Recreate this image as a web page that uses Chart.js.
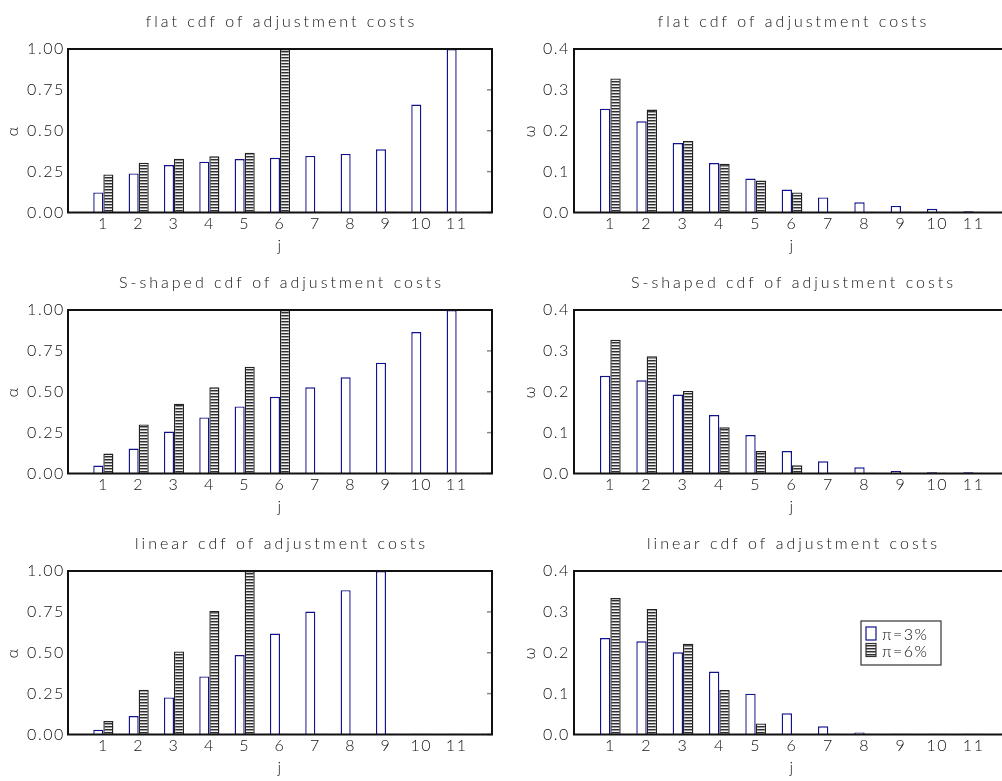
<!DOCTYPE html>
<html>
<head>
<meta charset="utf-8">
<script src="https://cdn.jsdelivr.net/npm/chart.js@4/dist/chart.umd.min.js"></script>
<style>
  html, body { margin: 0; padding: 0; background: #fff; overflow: hidden; }
  #page { position: relative; width: 1002px; height: 781px; overflow: hidden; background: #fff; }
  #page canvas { position: absolute; }
</style>
</head>
<body>
<div id="page"></div>
<script>
// ---- data ----------------------------------------------------------------
const jValues = [1, 2, 3, 4, 5, 6, 7, 8, 9, 10, 11, 12];
const jTicks = [1, 2, 3, 4, 5, 6, 7, 8, 9, 10, 11];
const alphaTicks = [0, 0.25, 0.5, 0.75, 1.0];
const omegaTicks = [0, 0.1, 0.2, 0.3, 0.4];

const panelTitles = [
  'flat cdf of adjustment costs',
  'S-shaped cdf of adjustment costs',
  'linear cdf of adjustment costs'
];
const seriesLabels = ['\u03c0=3%', '\u03c0=6%'];

// adjustment hazard alpha(j)
const alphaFlat3    = [0.123, 0.239, 0.290, 0.311, 0.327, 0.335, 0.346, 0.358, 0.387, 0.660, 1.000, 0.005];
const alphaFlat6    = [0.233, 0.305, 0.329, 0.344, 0.366, 1.000, 0.005, 0.005, 0.005, 0.005, 0.005, 0.005];
const alphaSshape3  = [0.049, 0.153, 0.257, 0.343, 0.410, 0.469, 0.527, 0.588, 0.678, 0.865, 1.000, 0.005];
const alphaSshape6  = [0.122, 0.300, 0.427, 0.527, 0.653, 1.000, 0.005, 0.005, 0.005, 0.005, 0.005, 0.005];
const alphaLinear3  = [0.029, 0.113, 0.227, 0.355, 0.486, 0.617, 0.752, 0.883, 1.000, 0.005, 0.005, 0.005];
const alphaLinear6  = [0.082, 0.273, 0.508, 0.756, 1.000, 0.005, 0.005, 0.005, 0.005, 0.005, 0.005, 0.005];

// vintage distribution omega(j)
const omegaFlat3    = [0.254, 0.223, 0.170, 0.121, 0.083, 0.056, 0.037, 0.025, 0.016, 0.009, 0.003, 0.002];
const omegaFlat6    = [0.328, 0.252, 0.175, 0.119, 0.078, 0.049, 0.002, 0.002, 0.002, 0.002, 0.002, 0.002];
const omegaSshape3  = [0.239, 0.228, 0.193, 0.143, 0.094, 0.055, 0.030, 0.015, 0.006, 0.003, 0.003, 0.002];
const omegaSshape6  = [0.327, 0.287, 0.202, 0.113, 0.055, 0.020, 0.002, 0.002, 0.002, 0.002, 0.002, 0.002];
const omegaLinear3  = [0.236, 0.228, 0.201, 0.154, 0.100, 0.052, 0.020, 0.005, 0.002, 0.002, 0.002, 0.002];
const omegaLinear6  = [0.334, 0.307, 0.222, 0.109, 0.027, 0.002, 0.002, 0.002, 0.002, 0.002, 0.002, 0.002];

// ---- styling -------------------------------------------------------------
const FONT = 'Lato';
const INK = '#111';
const BLUE = '#12128c';

function hatchPattern() {
  const c = document.createElement('canvas');
  c.width = 4; c.height = 3;
  const g = c.getContext('2d');
  g.fillStyle = '#f2f2f2'; g.fillRect(0, 0, 4, 3);
  g.fillStyle = '#2e2e2e'; g.fillRect(0, 0, 4, 1);
  g.fillStyle = '#9a9a9a'; g.fillRect(0, 1, 4, 1);
  return g.createPattern(c, 'repeat');
}
const HATCH = hatchPattern();

function setSpacing(chart) { chart.ctx.letterSpacing = '1.6px'; }

// frame, inner ticks on the right edge and the panel title
const framePlugin = {
  id: 'frame',
  beforeUpdate: setSpacing,
  beforeLayout: setSpacing,
  beforeDraw: setSpacing,
  afterDatasetsDraw(chart, args, opts) {
    const { ctx, chartArea: a, scales } = chart;
    ctx.save();
    ctx.strokeStyle = '#888';
    ctx.lineWidth = 1.5;
    scales.y.ticks.forEach(t => {
      const py = scales.y.getPixelForValue(t.value);
      ctx.beginPath();
      ctx.moveTo(a.right - 5, py);
      ctx.lineTo(a.right, py);
      ctx.stroke();
    });
    ctx.strokeStyle = '#111';
    ctx.lineWidth = 2;
    ctx.strokeRect(a.left, a.top, a.right - a.left, a.bottom - a.top);
    ctx.letterSpacing = '3px';
    ctx.fillStyle = INK;
    ctx.font = `300 16px ${FONT}`;
    ctx.textAlign = 'center';
    ctx.textBaseline = 'alphabetic';
    ctx.fillText(opts.title, (a.left + a.right) / 2 + 1.5, a.top - 22.5);
    ctx.restore();
  }
};

// key box inside the plot area
const keyPlugin = {
  id: 'key',
  afterDraw(chart, args, opts) {
    if (!opts.show) return;
    const { ctx, chartArea: a } = chart;
    const x0 = a.left + opts.dx, y0 = a.top + opts.dy;
    ctx.save();
    ctx.fillStyle = '#fff';
    ctx.fillRect(x0, y0, 80, 44);
    ctx.strokeStyle = '#333';
    ctx.lineWidth = 1.2;
    ctx.strokeRect(x0, y0, 80, 44);
    chart.data.datasets.forEach((ds, i) => {
      const sy = y0 + 6 + i * 16.5;
      ctx.fillStyle = i === 0 ? '#fff' : HATCH;
      ctx.fillRect(x0 + 5, sy, 10, 13);
      ctx.strokeStyle = i === 0 ? BLUE : '#333';
      ctx.lineWidth = 1.2;
      ctx.strokeRect(x0 + 5, sy, 10, 13);
      ctx.letterSpacing = '1.5px';
      ctx.fillStyle = INK;
      ctx.font = `300 16px ${FONT}`;
      ctx.textAlign = 'left';
      ctx.textBaseline = 'alphabetic';
      ctx.fillText(ds.label, x0 + 21, sy + 13);
    });
    ctx.restore();
  }
};

function makePanel(row, col, title, s3, s6, kind, showKey) {
  const isAlpha = kind === 'alpha';
  const cv = document.createElement('canvas');
  const left = col === 0 ? 0 : 500;
  const width = col === 0 ? 500 : 510;
  cv.width = width; cv.height = 261;
  cv.style.left = left + 'px';
  cv.style.top = (row * 261) + 'px';
  cv.style.width = width + 'px';
  cv.style.height = '261px';
  document.getElementById('page').appendChild(cv);

  const tickFont = { family: FONT, size: 16, weight: 300 };
  const yTicks = isAlpha ? alphaTicks : omegaTicks;

  new Chart(cv, {
    type: 'bar',
    data: {
      datasets: [
        {
          label: seriesLabels[0],
          data: jValues.map((j, i) => ({ x: j, y: s3[i] })),
          backgroundColor: '#ffffff',
          borderColor: BLUE,
          borderWidth: 1.4,
          borderSkipped: 'start'
        },
        {
          label: seriesLabels[1],
          data: jValues.map((j, i) => ({ x: j, y: s6[i] })),
          backgroundColor: HATCH,
          borderColor: '#222',
          borderWidth: 1.4,
          borderSkipped: 'start'
        }
      ]
    },
    options: {
      responsive: false,
      animation: false,
      devicePixelRatio: 1,
      categoryPercentage: 0.57,
      barPercentage: 1.0,
      layout: { padding: { top: 49, right: col === 0 ? 8 : 0, left: 0, bottom: 0 } },
      plugins: {
        legend: { display: false },
        tooltip: { enabled: false },
        frame: { title },
        key: { show: showKey, dx: 287, dy: 50 }
      },
      scales: {
        x: {
          type: 'linear',
          min: 0, max: 12,
          offset: false,
          grid: { display: false, drawTicks: false },
          border: { display: false },
          afterBuildTicks: s => { s.ticks = jTicks.map(v => ({ value: v })); },
          afterFit: s => { s.height = 48.5; },
          ticks: { color: INK, font: tickFont, padding: 2, maxRotation: 0, autoSkip: false,
                   callback: v => String(v) },
          title: { display: true, text: 'j', color: INK, font: { family: FONT, size: 16, weight: 300 },
                   padding: { top: 0, bottom: 6 } }
        },
        y: {
          min: 0, max: isAlpha ? 1 : 0.4,
          grid: { display: false, drawTicks: false },
          border: { display: false },
          afterBuildTicks: s => { s.ticks = yTicks.map(v => ({ value: v })); },
          afterFit: s => { s.width = col === 0 ? 68 : 74; },
          ticks: { color: INK, font: tickFont, padding: col === 0 ? 3 : 4,
                   callback: v => v.toFixed(isAlpha ? 2 : 1) },
          title: { display: true, text: isAlpha ? '\u03b1' : '\u03c9', color: INK,
                   font: { family: FONT, size: 16, weight: 300 },
                   padding: { top: col === 0 ? 3 : 20, bottom: 0 } }
        }
      }
    },
    plugins: [framePlugin, keyPlugin]
  });
}

makePanel(0, 0, panelTitles[0], alphaFlat3,   alphaFlat6,   'alpha', false);
makePanel(0, 1, panelTitles[0], omegaFlat3,   omegaFlat6,   'omega', false);
makePanel(1, 0, panelTitles[1], alphaSshape3, alphaSshape6, 'alpha', false);
makePanel(1, 1, panelTitles[1], omegaSshape3, omegaSshape6, 'omega', false);
makePanel(2, 0, panelTitles[2], alphaLinear3, alphaLinear6, 'alpha', false);
makePanel(2, 1, panelTitles[2], omegaLinear3, omegaLinear6, 'omega', true);
</script>
</body>
</html>
